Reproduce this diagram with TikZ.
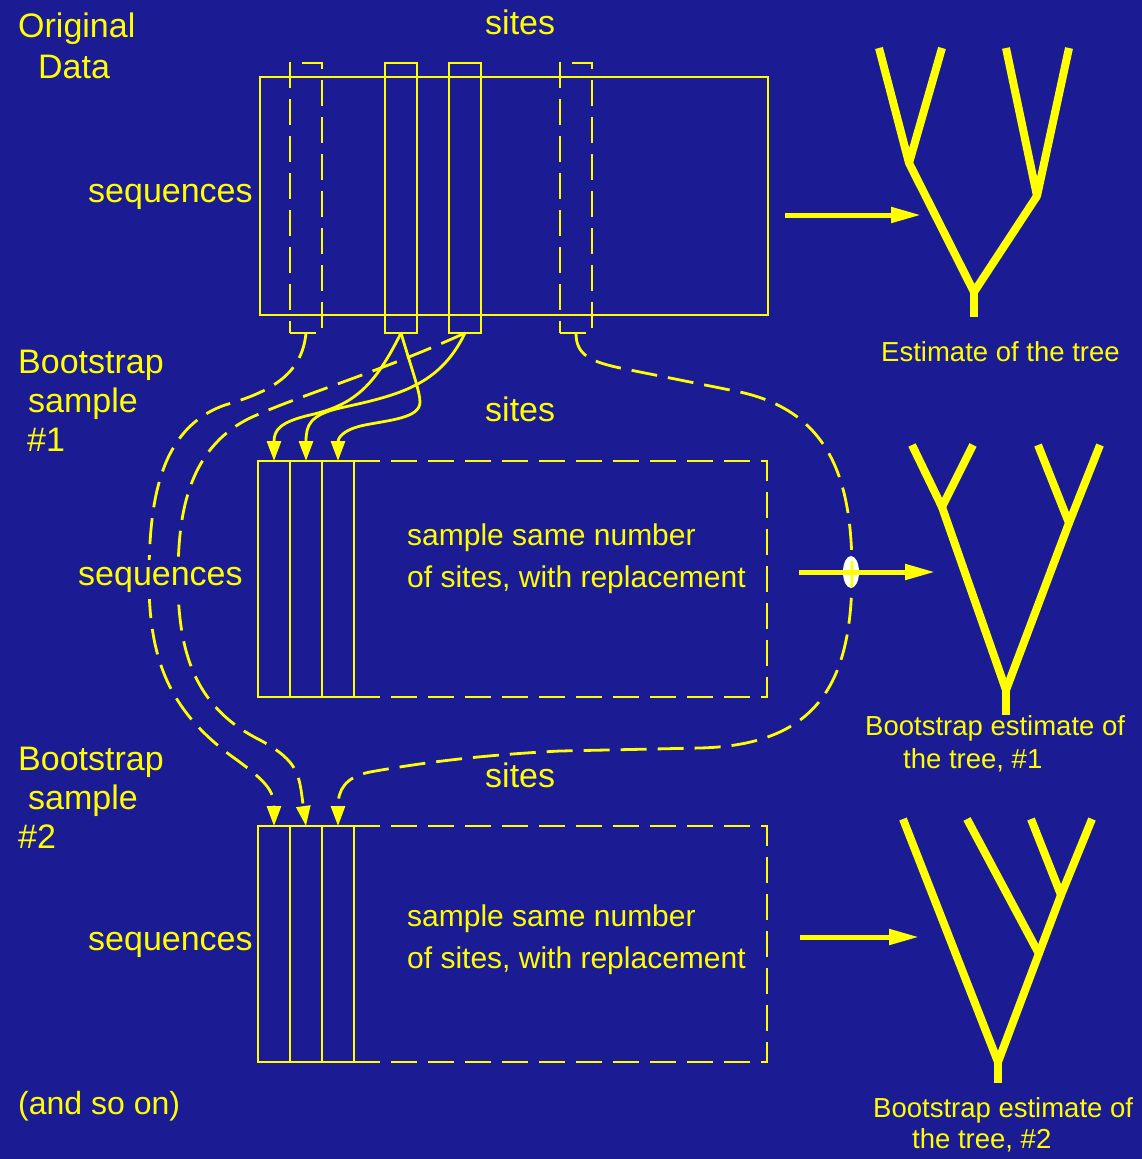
\documentclass[tikz,border=0pt]{standalone}
\usepackage{fontspec}
\setmainfont{Liberation Sans}
\usetikzlibrary{arrows.meta}
\definecolor{bg}{RGB}{27,27,148}
\definecolor{yel}{RGB}{255,255,0}
\begin{document}
\begin{tikzpicture}[x=1pt,y=-1pt,
  thinline/.style={draw=yel, line width=2.8pt},
  dashline/.style={draw=yel, line width=2.8pt, dash pattern=on 26pt off 11pt},
  col/.style={thinline, minimum width=32pt, inner sep=0pt, outer sep=0pt},
  dcol/.style={dashline, minimum width=32pt, inner sep=0pt, outer sep=0pt},
  tall/.style={minimum height=270pt},
  mid/.style={minimum height=236pt},
  conn/.style={thinline, -{Triangle[length=20pt,width=14pt]}},
  dconn/.style={dashline, -{Triangle[length=20pt,width=14pt]}},
  bigarrow/.style={draw=yel, line width=5pt, -{Triangle[length=30pt,width=15pt]}},
  tree/.style={draw=yel, line width=8pt, line cap=butt, line join=round},
  big/.style={text=yel, anchor=base west, inner sep=0pt, font=\fontsize{34}{40}\selectfont},
  med/.style={text=yel, anchor=base west, inner sep=0pt, font=\fontsize{30}{36}\selectfont},
  sml/.style={text=yel, anchor=base west, inner sep=0pt, font=\fontsize{27.5}{33}\selectfont}
]
\useasboundingbox (0,0) rectangle (1142,1159);
\fill[bg] (0,0) rectangle (1142,1159);

% ---------- original data ----------
\node[thinline, minimum width=508pt, minimum height=238pt, inner sep=0pt, outer sep=0pt] (datarect) at (514,196) {};
\node[dcol, tall] (t1) at (306,198) {};
\node[col, tall] (t2) at (401,198) {};
\node[col, tall] (t3) at (465,198) {};
\node[dcol, tall] (t4) at (576,198) {};

% ---------- bootstrap sample 1 ----------
\node[col, mid] (m1) at (274,579) {};
\node[col, mid] (m2) at (306,579) {};
\node[col, mid] (m3) at (338,579) {};
\draw[dashline] (m3.north east) -- (767,461) -- (767,697) -- (m3.south east);

% ---------- bootstrap sample 2 ----------
\node[col, mid] (b1) at (274,944) {};
\node[col, mid] (b2) at (306,944) {};
\node[col, mid] (b3) at (338,944) {};
\draw[dashline] (b3.north east) -- (767,826) -- (767,1062) -- (b3.south east);

% ---------- connectors: original -> sample 1 ----------
\draw[conn] (t2.south) .. controls (375,385) and (355,405) .. (310,415)
   .. controls (280,422) and (274,430) .. (m1.north);
\draw[conn] (t2.south) .. controls (412,370) and (420,392) .. (420,402)
   .. controls (420,418) and (390,420) .. (365,425)
   .. controls (340,430) and (338,440) .. (m3.north);
\draw[conn] (t3.south) .. controls (440,385) and (400,395) .. (340,408)
   .. controls (310,415) and (306,425) .. (m2.north);

% ---------- connectors: original -> sample 2 ----------
\fill[white] (851,572) ellipse [x radius=8pt, y radius=16pt];
\draw[dconn] (t1.south) .. controls (302,375) and (270,392) .. (225,405)
   .. controls (160,428) and (149,500) .. (149,580)
   .. controls (149,660) and (170,710) .. (230,755)
   .. controls (265,780) and (274,790) .. (b1.north);
\draw[dconn] (t3.south) .. controls (380,372) and (300,395) .. (250,418)
   .. controls (185,450) and (178,520) .. (178,580)
   .. controls (178,660) and (200,710) .. (260,740)
   .. controls (300,762) and (299,775) .. (b2.north);
\draw[dconn] (t4.south) .. controls (576,355) and (590,362) .. (625,369)
   -- (740,392) .. controls (830,412) and (852,480) .. (852,572)
   .. controls (852,680) and (820,745) .. (700,748)
   -- (560,751) .. controls (480,755) and (420,763) .. (370,772)
   .. controls (345,777) and (338,790) .. (b3.north);

% ---------- arrows to trees ----------
\coordinate (a0s) at (785,215); \coordinate (a0e) at (921,215);
\coordinate (a1s) at (799,572); \coordinate (a1e) at (935,572);
\coordinate (a2s) at (800,937); \coordinate (a2e) at (919,937);
\draw[bigarrow] (a0s) -- (a0e);
\draw[bigarrow] (a1s) -- (a1e);
\draw[bigarrow] (a2s) -- (a2e);

% ---------- tree 0 ----------
\draw[tree] (879,48) -- (909,163) -- (942,48);
\draw[tree] (1006,48) -- (1037,196) -- (1069,48);
\draw[tree] (909,163) -- (974,292) -- (1037,196);
\draw[tree] (974,292) -- (974,317);

% ---------- tree 1 ----------
\draw[tree] (912,445) -- (942,507) -- (973,445);
\draw[tree] (1038,445) -- (1069,523) -- (1100,445);
\draw[tree] (942,507) -- (1006,690) -- (1069,523);
\draw[tree] (1006,690) -- (1006,715);

% ---------- tree 2 ----------
\draw[tree] (1031,819) -- (1061,895) -- (1092,819);
\draw[tree] (967,819) -- (1038,952);
\draw[tree] (903,819) -- (998,1062) -- (1061,895);
\draw[tree] (998,1062) -- (998,1083);

% ---------- labels ----------
\node[big] (lorig) at (18,37) {Original};
\node[big] (ldata) at (38,78) {Data};
\node[big] (lsites1) at (485,34) {sites};
\node[big] (lseq1) at (88,202) {sequences};
\node[sml] (lest0) at (881,361) {Estimate of the tree};

\node[big] (lbs1a) at (18,373) {Bootstrap};
\node[big] (lbs1b) at (28,412) {sample};
\node[big] (lbs1c) at (27,451) {\#1};
\node[big] (lsites2) at (485,421) {sites};
\node[big, fill=bg, inner xsep=2pt, inner ysep=7pt] (lseq2) at (76,585) {sequences};
\node[med] (ls1a) at (407,545) {sample same number};
\node[med] (ls1b) at (407,587) {of sites, with replacement};
\node[sml] (lest1a) at (865,735) {Bootstrap estimate of};
\node[sml] (lest1b) at (903,768) {the tree, \#1};

\node[big] (lbs2a) at (18,770) {Bootstrap};
\node[big] (lbs2b) at (28,809) {sample};
\node[big] (lbs2c) at (18,848) {\#2};
\node[big] (lsites3) at (485,787) {sites};
\node[big] (lseq3) at (88,950) {sequences};
\node[med] (ls2a) at (407,926) {sample same number};
\node[med] (ls2b) at (407,968) {of sites, with replacement};
\node[sml] (lest2a) at (873,1117) {Bootstrap estimate of};
\node[sml] (lest2b) at (912,1148) {the tree, \#2};

\node[big, font=\fontsize{32}{38}\selectfont] (lso) at (18,1114) {(and so on)};
\end{tikzpicture}
\end{document}
